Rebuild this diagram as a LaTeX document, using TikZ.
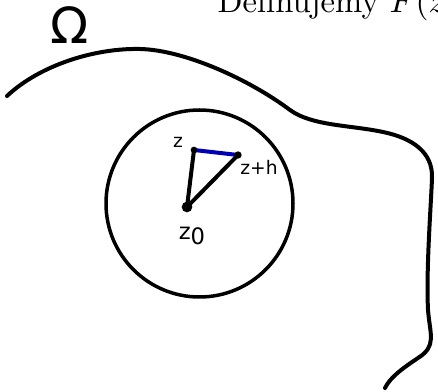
\documentclass[tikz,border=0pt]{standalone}
\usepackage{fontspec}
\newfontfamily\handfont{DejaVu Sans}
\usetikzlibrary{positioning}

\begin{document}
\begin{tikzpicture}[x=0.3pt, y=-0.3pt,
    pen/.style={line width=1.2pt, line cap=round, line join=round},
    hand/.style={font=\handfont\fontsize{5.6}{6}\selectfont, inner sep=0pt},
    dot/.style={circle, fill, inner sep=0pt, minimum size=#1}
  ]
    \useasboundingbox (0,0) rectangle (438,392);
    \clip (0,0) rectangle (438,392);
    % heading
    \node[anchor=base west, inner sep=0pt, font=\fontsize{9.8}{12}\selectfont] (head) at (217,12.7) {Definujemy $F(z)$};
    % the region
    \node[font=\handfont\fontsize{15}{16}\selectfont, inner sep=0pt] (omega) at (70,25) {Ω};
    \draw[pen] (7,96) .. controls (40,65) and (95,48) .. (140,49)
      .. controls (185,50) and (250,80) .. (290,110)
      .. controls (312,126) and (350,125) .. (383,132)
      .. controls (412,138) and (433,152) .. (432,178)
      .. controls (431,205) and (426,270) .. (428,310)
      .. controls (430,335) and (437,346) .. (418,358)
      .. controls (400,370) and (390,378) .. (385,388);
    % the disc
    \coordinate (c) at (199.5,203.5);
    \draw[line width=1.05pt] (c) circle[radius=93.5];
    \coordinate (z0) at (187,207);
    \coordinate (z) at (194,150);
    \coordinate (zh) at (238,155);
    \draw[pen] (z0) -- (z);
    \draw[pen] (z0) -- (zh);
    \draw[pen, blue!70!black] (z) -- (zh);
    \node[dot=3.2pt] at (z0) {};
    \node[dot=2pt] at (z) {};
    \node[dot=2.2pt] at (zh) {};
    \node[hand] (zlab) at (178,142) {z};
    \node[hand] (zhlab) at (259,167) {z+h};
    \node[hand, font=\handfont\fontsize{6.8}{7}\selectfont] (z0lab) at (192,236) {z\raisebox{-0.35ex}{0}};
  \end{tikzpicture}
\end{document}
